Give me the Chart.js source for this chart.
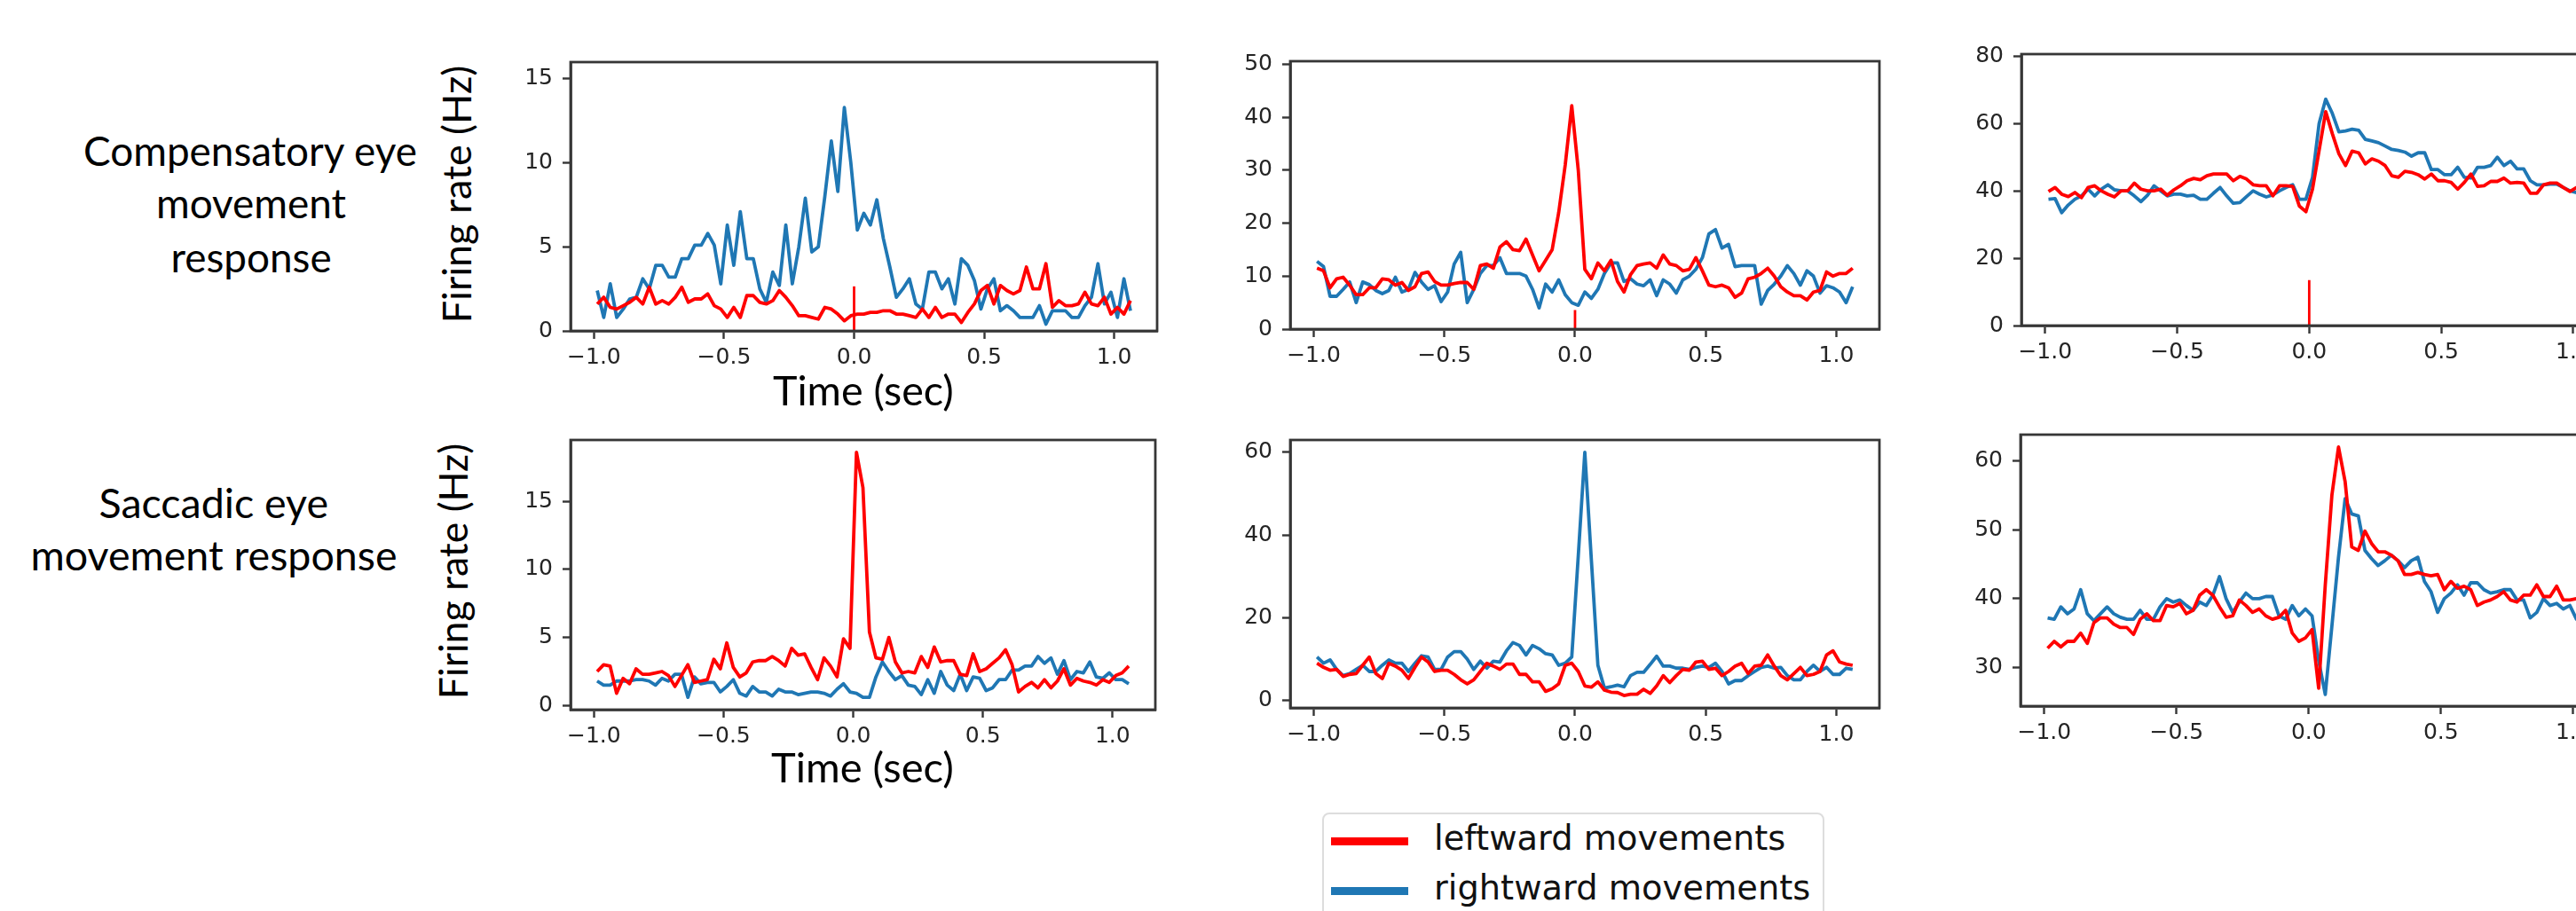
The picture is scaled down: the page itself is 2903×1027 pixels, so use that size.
<!DOCTYPE html>
<html><head><meta charset="utf-8">
<script src="https://cdn.jsdelivr.net/npm/chart.js@4.4.1/dist/chart.umd.min.js"></script>
<style>
html,body{margin:0;padding:0;background:#fff;}
#stage{position:relative;width:2903px;height:1027px;overflow:hidden;background:#fff;}
canvas{position:absolute;}
.lbl{position:absolute;white-space:nowrap;font-family:Lato,'Noto Sans',sans-serif;color:#000;line-height:1;}
.leg{position:absolute;white-space:nowrap;font-family:'DejaVu Sans',sans-serif;color:#111;line-height:1;}
</style></head><body><div id="stage"></div>
<script>
// ---------------- DATA ----------------
const timeBins = [-0.9875,-0.9625,-0.9375,-0.9125,-0.8875,-0.8625,-0.8375,-0.8125,-0.7875,-0.7625,
 -0.7375,-0.7125,-0.6875,-0.6625,-0.6375,-0.6125,-0.5875,-0.5625,-0.5375,-0.5125,
 -0.4875,-0.4625,-0.4375,-0.4125,-0.3875,-0.3625,-0.3375,-0.3125,-0.2875,-0.2625,
 -0.2375,-0.2125,-0.1875,-0.1625,-0.1375,-0.1125,-0.0875,-0.0625,-0.0375,-0.0125,
 0.0125,0.0375,0.0625,0.0875,0.1125,0.1375,0.1625,0.1875,0.2125,0.2375,
 0.2625,0.2875,0.3125,0.3375,0.3625,0.3875,0.4125,0.4375,0.4625,0.4875,
 0.5125,0.5375,0.5625,0.5875,0.6125,0.6375,0.6625,0.6875,0.7125,0.7375,
 0.7625,0.7875,0.8125,0.8375,0.8625,0.8875,0.9125,0.9375,0.9625,0.9875,
 1.0125,1.0375,1.0625];

// Compensatory row
const compLeftA  = [1.6,2.0,1.4,1.3,1.5,1.7,2.0,1.6,2.6,1.6, 1.8,1.6,2.0,2.6,1.7,1.9,1.9,2.2,1.5,1.3, 0.8,1.4,0.8,2.1,2.1,1.7,1.6,1.8,2.4,2.0, 1.5,0.9,0.9,0.8,0.7,1.4,1.3,1.0,0.6,0.9, 1.0,1.0,1.1,1.1,1.2,1.2,1.0,1.0,0.9,0.8, 1.3,0.8,1.4,0.8,1.0,1.0,0.5,1.1,1.6,2.4, 2.7,1.6,2.7,2.4,2.2,2.4,3.8,2.5,2.5,4.0, 1.4,1.8,1.5,1.5,1.6,2.3,1.6,1.5,2.0,1.0, 1.4,1.0,1.8];
const compRightA = [2.4,0.8,2.8,0.8,1.3,1.9,2.0,3.1,2.5,3.9, 3.9,3.2,3.2,4.3,4.3,5.1,5.1,5.8,5.1,2.8, 6.3,3.9,7.1,4.3,4.3,2.5,1.7,3.5,2.7,6.3, 2.8,5.0,7.9,4.7,5.0,8.0,11.3,8.3,13.3,10.0, 6.0,7.0,6.3,7.8,5.5,3.8,2.0,2.5,3.1,1.6, 1.3,3.5,3.5,2.5,3.1,1.6,4.3,3.9,3.0,1.3, 2.5,3.1,1.2,1.5,1.2,0.8,0.8,0.8,1.5,0.4, 1.2,1.2,1.2,0.8,0.8,1.5,2.0,4.0,1.6,2.3, 0.8,3.1,1.2];
const compLeftB  = [11.5,11.0,7.8,9.5,9.8,8.3,6.5,6.5,7.8,7.8, 9.5,9.3,8.3,8.8,7.3,8.0,10.5,10.8,9.0,8.3, 8.3,8.6,8.8,8.8,7.5,12.0,12.3,11.5,15.5,16.5, 15.0,14.8,17.0,14.0,11.0,13.0,15.0,22.0,31.0,42.2, 30.0,11.3,9.5,12.5,11.0,13.0,9.0,7.0,10.3,12.0, 12.3,12.5,11.5,14.0,12.3,12.0,11.0,11.3,13.5,11.0, 8.3,8.0,8.3,7.8,6.0,6.8,9.5,9.8,10.5,11.5, 10.0,8.0,7.0,6.3,6.3,5.5,7.0,7.3,10.8,10.0, 10.5,10.5,11.5];
const compRightB = [12.8,11.8,6.2,6.2,7.5,8.9,5.0,8.9,8.4,7.3, 6.7,7.3,9.8,7.0,7.5,10.7,8.9,7.5,8.2,5.2, 7.0,12.3,14.5,5.0,7.5,10.5,12.0,12.0,13.5,10.5, 10.5,10.5,10.0,7.5,4.0,8.5,7.0,9.3,6.5,5.0, 4.5,7.0,5.8,7.5,10.5,12.5,12.5,9.0,9.5,8.5, 8.2,9.3,6.3,9.3,8.5,6.8,9.3,10.0,11.3,13.5, 18.0,18.8,15.3,16.0,11.8,12.0,12.0,12.0,4.7,7.3, 8.5,10.0,12.0,10.5,8.3,11.0,10.0,6.8,8.2,7.8, 7.0,5.0,8.0];
const compLeftC  = [39.8,41.0,39.0,38.3,39.5,38.0,41.0,41.5,40.0,39.0, 38.2,40.0,40.0,42.3,40.5,40.0,40.0,40.5,38.7,40.3, 41.5,43.0,43.7,43.3,44.5,45.0,45.0,45.0,43.0,44.3, 43.5,41.8,41.5,41.5,38.5,41.5,41.5,41.3,35.5,33.8, 40.5,52.0,63.5,57.0,51.0,47.5,51.8,51.3,48.0,49.5, 48.8,47.5,44.5,44.0,45.8,45.5,44.8,43.5,45.0,43.0, 43.0,42.5,40.5,42.5,45.0,41.3,41.5,42.8,42.8,43.8, 42.3,42.5,42.3,39.3,39.3,41.8,42.3,42.3,41.0,39.8, 41.0,40.5,40.0];
const compRightC = [37.5,37.7,33.5,35.8,37.5,38.5,40.5,38.5,40.5,41.8, 40.3,40.0,40.0,38.5,36.8,38.7,41.5,40.0,38.5,39.0, 39.0,38.5,38.7,37.5,37.5,39.3,41.0,38.5,36.3,36.5, 38.3,40.0,39.0,38.2,38.8,40.0,41.0,41.8,37.5,37.5, 44.0,60.0,67.2,63.0,57.5,57.8,58.3,58.0,55.3,54.8, 54.3,53.3,52.3,52.0,51.5,50.3,51.3,51.3,46.3,46.3, 44.8,44.8,47.0,44.0,43.8,47.0,47.0,47.5,50.0,47.5, 48.8,46.5,46.5,43.0,41.8,41.8,42.0,42.0,41.0,40.0, 39.5,39.0,38.8];

// Saccadic row
const saccLeftA  = [2.5,3.0,2.9,0.9,2.0,1.6,2.7,2.3,2.3,2.4, 2.5,2.2,1.4,2.2,3.0,1.7,1.8,1.9,3.4,2.7, 4.6,2.8,2.1,2.4,3.2,3.3,3.3,3.6,3.3,2.9, 4.2,3.7,3.8,2.8,1.9,3.5,2.9,2.1,4.9,4.2, 18.6,16.0,5.4,3.5,3.4,5.0,3.2,2.4,2.5,2.4, 3.6,2.8,4.3,3.2,3.3,3.3,2.3,2.2,3.8,2.5, 2.7,3.1,3.5,4.1,3.0,1.0,1.4,1.7,1.3,1.9, 1.3,1.8,2.7,1.5,2.0,1.8,1.7,1.5,1.9,1.7, 2.2,2.4,2.9];
const saccRightA = [1.8,1.5,1.5,1.8,1.8,1.8,1.9,1.9,1.8,1.5, 2.0,1.8,2.3,2.3,0.6,2.1,1.6,1.7,1.7,1.0, 1.4,1.9,0.9,0.7,1.4,1.0,1.0,0.7,1.2,1.0, 1.0,0.8,0.9,1.0,1.0,0.9,0.7,1.2,1.6,1.0, 0.9,0.6,0.6,2.1,3.2,2.5,1.9,2.2,1.5,1.4, 0.8,1.9,0.9,2.5,1.5,1.1,2.3,1.1,2.1,2.0, 1.1,1.3,1.9,1.9,2.6,2.6,2.9,2.9,3.6,3.1, 3.5,2.3,3.3,1.9,2.5,2.4,3.2,2.1,2.0,2.4, 1.9,1.9,1.6];
const saccLeftB  = [9.0,8.0,7.3,7.5,5.8,6.3,6.5,8.5,10.5,6.5, 5.3,9.0,8.3,7.3,5.3,8.0,10.5,9.3,7.0,7.3, 7.3,6.3,5.0,4.0,5.0,7.0,9.0,8.3,7.5,8.8, 8.8,6.3,6.3,4.5,4.5,2.2,2.8,4.0,8.5,9.0, 7.0,3.5,3.2,4.5,2.5,2.0,1.9,1.2,1.5,1.5, 2.7,1.7,3.5,6.0,4.3,6.0,7.5,7.3,9.3,9.5, 7.5,7.8,6.0,7.0,8.3,9.0,6.5,8.3,8.5,11.0, 8.3,6.0,5.0,6.5,8.0,6.0,6.3,7.0,11.0,12.0, 9.3,8.8,8.5];
const saccRightB = [10.5,9.0,9.8,7.5,6.0,6.5,7.5,8.5,7.0,7.0, 8.5,9.8,9.0,9.0,7.0,9.0,10.8,10.5,7.5,7.5, 10.5,11.8,11.8,10.0,7.5,9.5,7.8,9.5,9.3,12.0, 14.0,13.3,11.0,13.3,12.5,11.3,11.0,8.5,9.0,10.5, 35.0,60.0,34.0,8.5,3.0,3.3,3.7,3.3,6.0,6.8, 6.8,8.7,10.7,8.3,8.3,7.8,7.8,7.5,8.0,8.3, 8.0,9.0,7.0,4.0,4.8,4.8,6.0,7.0,8.0,8.3, 7.8,8.0,6.0,5.0,5.0,7.0,8.5,7.0,8.0,6.3, 6.3,7.8,7.5];
const saccLeftC  = [32.8,33.8,33.0,33.8,33.8,35.0,33.5,36.5,37.2,37.2, 36.3,35.8,35.8,34.8,37.0,37.8,36.8,36.8,39.0,38.8, 39.3,37.8,38.3,40.5,41.3,40.5,38.8,37.3,37.5,39.8, 39.0,38.0,38.5,37.5,37.0,37.3,38.3,35.0,33.8,34.3, 35.5,27.0,42.0,55.0,62.0,57.0,47.5,47.0,49.8,48.0, 46.8,46.8,46.3,45.5,43.5,43.5,43.8,43.5,43.3,43.5, 41.3,42.5,41.5,41.8,41.3,39.0,39.5,39.8,40.3,41.0, 39.8,39.5,40.5,40.5,42.0,40.3,40.3,41.8,39.8,39.8, 40.0,39.5,40.0];
const saccRightC = [37.2,37.0,38.8,37.8,38.5,41.3,37.8,36.8,37.8,38.8, 37.8,37.3,37.0,37.0,38.3,37.0,37.0,38.8,40.0,39.5, 39.8,39.0,38.3,39.5,39.0,40.5,43.2,40.0,38.0,39.5, 40.8,40.0,40.0,40.3,40.3,37.5,37.0,39.0,37.5,38.5, 37.5,31.0,26.1,36.0,46.0,54.5,52.3,52.0,47.0,45.8, 44.8,45.5,46.3,45.5,44.5,45.5,46.0,42.5,41.0,38.0, 40.0,40.8,42.0,40.5,42.3,42.3,41.3,40.8,41.0,41.3, 41.3,39.8,39.8,37.2,38.0,40.0,39.0,39.3,38.5,39.0, 37.0,38.5,39.0];

// event marker at movement onset (top row only)
const eventTime = 0;
const eventMarkerHeight = [2.65, 3.6, 13.5, null, null, null];

// axes
const xLimits = [-1.09, 1.165];
const xTickValues = [-1.0, -0.5, 0.0, 0.5, 1.0];
const yLimits = [[0,16],[0,50.6],[0,80.6],[-0.3,19.5],[-1.8,63],[24.4,63.8]];
const yTickValues = [[0,5,10,15],[0,10,20,30,40,50],[0,20,40,60,80],[0,5,10,15],[0,20,40,60],[30,40,50,60]];

const leftSeries  = [compLeftA, compLeftB, compLeftC, saccLeftA, saccLeftB, saccLeftC];
const rightSeries = [compRightA, compRightB, compRightC, saccRightA, saccRightB, saccRightC];

const legendLabels = ['leftward movements', 'rightward movements'];

// ---------------- LAYOUT / STYLE ----------------
const RED = '#ff0000', BLUE = '#1f77b4', AX = '#363636';
const boxes = [
  {L:643, R:1304, T:48,  B:373},
  {L:1454,R:2118, T:47,  B:371},
  {L:2278,R:2949, T:39,  B:367},
  {L:643, R:1302, T:474, B:800},
  {L:1454,R:2118, T:474, B:798},
  {L:2277,R:2949, T:468, B:796}
];
const YW = 90, XH = 70, PT = 4, PR = 4;
const stage = document.getElementById('stage');

const framePlugin = {
  id: 'frame',
  afterDraw(chart) {
    const a = chart.chartArea, c = chart.ctx;
    c.save(); c.strokeStyle = AX; c.lineWidth = 2.8;
    c.strokeRect(a.left, a.top, a.right - a.left, a.bottom - a.top);
    c.restore();
  }
};
const fmtX = v => (v < 0 ? '\u2212' : '') + Math.abs(v).toFixed(1);

boxes.forEach((b, i) => {
  const cv = document.createElement('canvas');
  const w = (b.R - b.L) + YW + PR, h = (b.B - b.T) + PT + XH;
  cv.width = w; cv.height = h;
  cv.style.left = (b.L - YW) + 'px'; cv.style.top = (b.T - PT) + 'px';
  cv.style.width = w + 'px'; cv.style.height = h + 'px';
  stage.appendChild(cv);
  const datasets = [];
  if (eventMarkerHeight[i] !== null) {
    datasets.push({label:'onset', data:[{x:eventTime,y:0},{x:eventTime,y:eventMarkerHeight[i]}],
      borderColor:RED, borderWidth:2.8, pointRadius:0});
  }
  datasets.push({label:legendLabels[0], data: timeBins.map((t,k)=>({x:t,y:leftSeries[i][k]})),
    borderColor:RED, borderWidth:3.8, pointRadius:0, tension:0, borderJoinStyle:'round'});
  datasets.push({label:legendLabels[1], data: timeBins.map((t,k)=>({x:t,y:rightSeries[i][k]})),
    borderColor:BLUE, borderWidth:3.8, pointRadius:0, tension:0, borderJoinStyle:'round'});
  const tickFont = {family:'DejaVu Sans', size:25};
  new Chart(cv.getContext('2d'), {
    type:'line',
    data:{datasets},
    options:{
      responsive:false, animation:false, devicePixelRatio:1,
      layout:{padding:{top:PT, right:PR, left:0, bottom:0}},
      plugins:{legend:{display:false}, tooltip:{enabled:false}},
      scales:{
        x:{type:'linear', min:xLimits[0], max:xLimits[1],
          afterBuildTicks:s=>{s.ticks = xTickValues.map(v=>({value:v}));},
          afterFit:s=>{s.height = XH;},
          ticks:{callback:v=>fmtX(v), font:tickFont, color:'#242424', padding:6, maxRotation:0, autoSkip:false},
          grid:{display:true, drawOnChartArea:false, drawTicks:true, tickLength:9, tickColor:AX, tickWidth:2.4},
          border:{display:true, color:AX, width:2.8}},
        y:{type:'linear', min:yLimits[i][0], max:yLimits[i][1],
          afterBuildTicks:s=>{s.ticks = yTickValues[i].map(v=>({value:v}));},
          afterFit:s=>{s.width = YW;},
          ticks:{callback:v=>String(v), font:tickFont, color:'#242424', padding:11, autoSkip:false},
          grid:{display:true, drawOnChartArea:false, drawTicks:true, tickLength:9, tickColor:AX, tickWidth:2.4},
          border:{display:true, color:AX, width:2.8}}
      }
    },
    plugins:[framePlugin]
  });
});

// ---------------- TEXT ----------------
function addText(txt, cls, size, cx, cy, targetW, rotate) {
  const el = document.createElement('div');
  el.className = cls; el.textContent = txt; el.style.fontSize = size + 'px';
  stage.appendChild(el);
  if (targetW) { el.style.fontSize = (size * targetW / el.offsetWidth) + 'px'; }
  const fs = parseFloat(el.style.fontSize);
  if (rotate) {
    el.style.left = cx + 'px'; el.style.top = cy + 'px';
    el.style.transform = 'translate(-50%,-50%) rotate(-90deg)';
  } else {
    el.style.left = (cx - el.offsetWidth / 2) + 'px';
    el.style.top = (cy - fs * 0.52) + 'px';
  }
  return fs;
}
const fsTop = addText('Compensatory eye', 'lbl', 46, 282, 171, 376);
addText('movement', 'lbl', fsTop, 283, 230);
addText('response', 'lbl', fsTop, 283, 291);
const fsBot = addText('movement response', 'lbl', 46, 241, 626, 413);
addText('Saccadic eye', 'lbl', fsBot, 241, 567);
addText('Firing rate (Hz)', 'lbl', 46, 514, 219, 290, true);
addText('Firing rate (Hz)', 'lbl', 46, 510, 644, 288, true);
addText('Time (sec)', 'lbl', 48, 973, 440, 204);
addText('Time (sec)', 'lbl', 48, 972, 865, 206);

// legend
const lg = document.createElement('div');
Object.assign(lg.style, {position:'absolute', left:'1490px', top:'916px', width:'566px', height:'150px',
  border:'2px solid #dddddd', borderRadius:'8px', background:'#fff', boxSizing:'border-box'});
stage.appendChild(lg);
let lgFs = 38;
[[RED, 948, 947], [BLUE, 1004, 1003]].forEach(([col, hy, ty], j) => {
  const hd = document.createElement('div');
  Object.assign(hd.style, {position:'absolute', left:'1500px', top:(hy - 4.5) + 'px', width:'87px', height:'9px', background:col});
  stage.appendChild(hd);
  const el = document.createElement('div');
  el.className = 'leg'; el.textContent = legendLabels[j]; el.style.fontSize = '38px';
  stage.appendChild(el);
  if (j === 0) { lgFs = 38 * 396 / el.offsetWidth; }
  el.style.fontSize = lgFs + 'px';
  el.style.left = '1616px'; el.style.top = (ty - lgFs * 0.55) + 'px';
});
</script></body></html>
